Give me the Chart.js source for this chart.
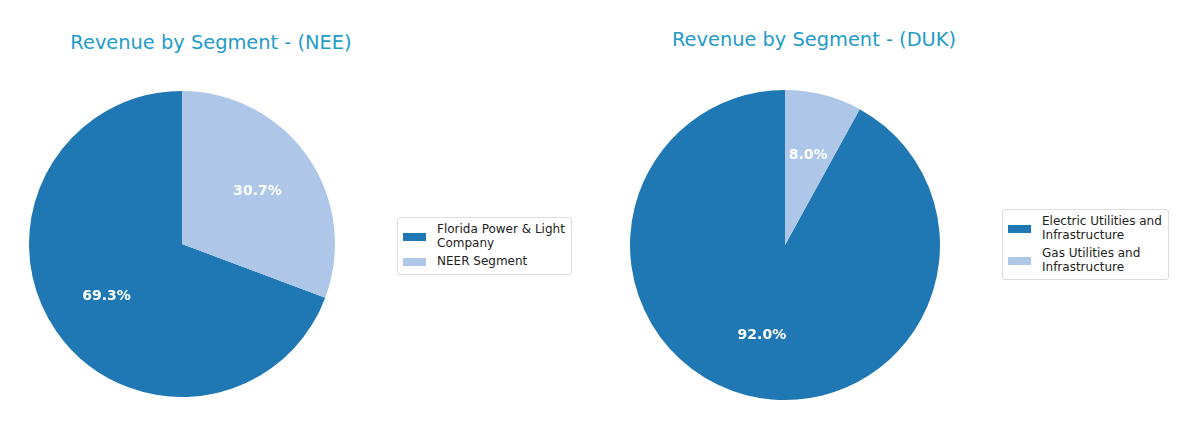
<!DOCTYPE html>
<html>
<head>
<meta charset="utf-8">
<script src="https://cdn.jsdelivr.net/npm/chart.js@4.4.1/dist/chart.umd.min.js"></script>
<style>
  body { margin: 0; background: #fff; font-family: "DejaVu Sans", sans-serif; }
  #wrap { position: relative; width: 1200px; height: 430px; overflow: hidden; }
  .title { position: absolute; font-size: 19.4px; color: #1f9bc8; white-space: nowrap; transform: translate(-50%, -50%); }
  .pie { position: absolute; }
  .legend { position: absolute; border: 1px solid #dcdcdc; border-radius: 3px; background: #fff;
            padding: 5px 6px 5px 5px; display: flex; flex-direction: column; gap: 5px; }
  .item { display: flex; align-items: center; font-size: 12px; line-height: 13.5px; color: #222; }
  .patch { width: 23px; height: 8px; margin-right: 11px; flex: none; }
</style>
</head>
<body>
<div id="wrap">
  <div class="title" style="left:211px; top:42px;">Revenue by Segment - (NEE)</div>
  <div class="title" style="left:814px; top:39px;">Revenue by Segment - (DUK)</div>
  <canvas id="pieNEE" class="pie" width="306" height="306" style="left:29px; top:91px;"></canvas>
  <canvas id="pieDUK" class="pie" width="310" height="310" style="left:630px; top:90px;"></canvas>
  <div id="legNEE" class="legend" style="left:397px; top:217px;"></div>
  <div id="legDUK" class="legend" style="left:1002px; top:209px;"></div>
</div>
<script>
var nee_labels = ['Florida Power & Light Company', 'NEER Segment'];
var nee_values = [69.3, 30.7];
var duk_labels = ['Electric Utilities and Infrastructure', 'Gas Utilities and Infrastructure'];
var duk_values = [92.0, 8.0];
var colors = ['#1f77b4', '#aec7e8'];

// wrap legend text like textwrap(width=22)
function wrap(text, width) {
  var words = text.split(' '), lines = [], cur = '';
  words.forEach(function (w) {
    if (cur && (cur + ' ' + w).length > width) { lines.push(cur); cur = w; }
    else { cur = cur ? cur + ' ' + w : w; }
  });
  if (cur) lines.push(cur);
  return lines;
}

// percent labels at 0.6 of the radius, like matplotlib autopct
var pctLabels = {
  id: 'pctLabels',
  afterDatasetsDraw: function (chart) {
    var ctx = chart.ctx;
    var meta = chart.getDatasetMeta(0);
    var data = chart.data.datasets[0].data;
    var total = data.reduce(function (a, b) { return a + b; }, 0);
    ctx.save();
    ctx.fillStyle = '#ffffff';
    ctx.font = 'bold 14px "DejaVu Sans"';
    ctx.textAlign = 'center';
    ctx.textBaseline = 'middle';
    meta.data.forEach(function (arc, i) {
      var p = arc.getProps(['x', 'y', 'startAngle', 'endAngle', 'outerRadius'], true);
      var mid = (p.startAngle + p.endAngle) / 2;
      var r = p.outerRadius * 0.6;
      ctx.fillText((data[i] / total * 100).toFixed(1) + '%', p.x + r * Math.cos(mid), p.y + r * Math.sin(mid));
    });
    ctx.restore();
  }
};

function makePie(id, labels, values) {
  var total = values.reduce(function (a, b) { return a + b; }, 0);
  return new Chart(document.getElementById(id), {
    type: 'pie',
    data: {
      labels: labels,
      datasets: [{ data: values, backgroundColor: colors, borderWidth: 0 }]
    },
    options: {
      responsive: false,
      animation: false,
      // first slice runs counter-clockwise from 12 o'clock
      rotation: -values[0] / total * 360,
      layout: { padding: 0 },
      plugins: { legend: { display: false }, tooltip: { enabled: false } }
    },
    plugins: [pctLabels]
  });
}

function makeLegend(id, labels) {
  var el = document.getElementById(id);
  labels.forEach(function (lab, i) {
    var item = document.createElement('div');
    item.className = 'item';
    var patch = document.createElement('div');
    patch.className = 'patch';
    patch.style.background = colors[i];
    var txt = document.createElement('div');
    txt.innerHTML = wrap(lab, 22).join('<br>');
    item.appendChild(patch);
    item.appendChild(txt);
    el.appendChild(item);
  });
}

makePie('pieNEE', nee_labels, nee_values);
makePie('pieDUK', duk_labels, duk_values);
makeLegend('legNEE', nee_labels);
makeLegend('legDUK', duk_labels);
</script>
</body>
</html>
